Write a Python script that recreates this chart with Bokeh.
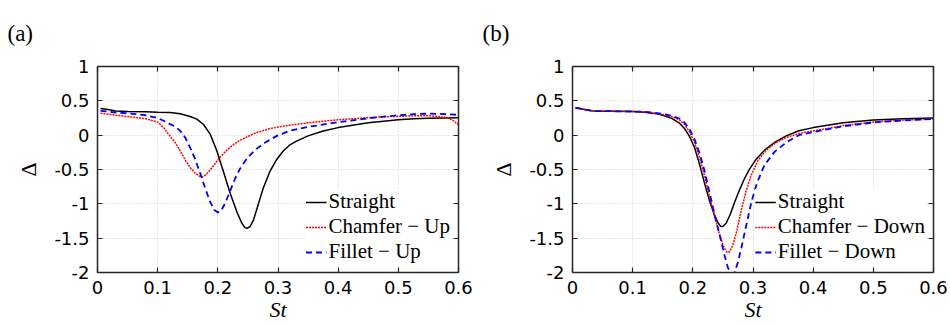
from bokeh.plotting import figure
from bokeh.layouts import row
from bokeh.models import (FixedTicker, NumeralTickFormatter, LinearAxis,
                          Legend, LegendItem)
from bokeh.embed import file_html
from bokeh.resources import INLINE

# ---------------- data ----------------
x_ticks = [0, 0.1, 0.2, 0.3, 0.4, 0.5, 0.6]
y_ticks = [-2, -1.5, -1, -0.5, 0, 0.5, 1]
labels_a = ["Straight", "Chamfer \u2212 Up", "Fillet \u2212 Up"]
labels_b = ["Straight", "Chamfer \u2212 Down", "Fillet \u2212 Down"]

# (a) Straight
st_a_straight = [0.005, 0.02, 0.03, 0.05, 0.08, 0.1, 0.1208, 0.1374, 0.154, 0.1651,
                 0.1762, 0.1873, 0.1983, 0.2094, 0.2205, 0.2316, 0.2399, 0.2454, 0.2493,
                 0.2537, 0.2593, 0.2648, 0.2704, 0.2759, 0.287, 0.2981, 0.3091, 0.3191,
                 0.33, 0.35, 0.375, 0.4, 0.45, 0.471, 0.5, 0.526, 0.55, 0.6]
d_a_straight = [0.39, 0.37, 0.352, 0.345, 0.34, 0.335, 0.33, 0.311, 0.272, 0.233,
                0.155, 0.015, -0.228, -0.534, -0.845, -1.117, -1.282, -1.35, -1.354,
                -1.33, -1.233, -1.078, -0.913, -0.762, -0.519, -0.35, -0.228, -0.146,
                -0.09, -0.01, 0.06, 0.11, 0.18, 0.2, 0.225, 0.24, 0.245, 0.255]
# (a) Chamfer - Up
st_a_chamfer = [0.005, 0.03, 0.055, 0.08, 0.1, 0.11, 0.1208, 0.1291, 0.1374, 0.1457,
                0.154, 0.1623, 0.1695, 0.1745, 0.1806, 0.1873, 0.1956, 0.2039, 0.215,
                0.226, 0.2371, 0.251, 0.2648, 0.287, 0.3191, 0.35, 0.4, 0.45, 0.471,
                0.5, 0.526, 0.554, 0.582, 0.592, 0.6]
d_a_chamfer = [0.32, 0.29, 0.266, 0.24, 0.19, 0.11, -0.019, -0.107, -0.228, -0.359,
               -0.471, -0.553, -0.597, -0.607, -0.573, -0.505, -0.413, -0.32, -0.218,
               -0.136, -0.073, -0.015, 0.039, 0.097, 0.146, 0.18, 0.225, 0.255, 0.265,
               0.275, 0.281, 0.281, 0.256, 0.208, 0.15]
# (a) Fillet - Up
st_a_fillet = [0.005, 0.03, 0.055, 0.08, 0.1, 0.11, 0.1208, 0.1291, 0.1374, 0.1457,
               0.154, 0.1623, 0.1706, 0.1789, 0.1873, 0.1939, 0.2, 0.2055, 0.2122,
               0.2205, 0.2288, 0.2371, 0.2482, 0.2621, 0.2787, 0.2981, 0.3191, 0.35,
               0.4, 0.45, 0.471, 0.5, 0.526, 0.554, 0.6]
d_a_fillet = [0.355, 0.33, 0.315, 0.29, 0.25, 0.21, 0.16, 0.126, 0.063, -0.034,
              -0.18, -0.35, -0.553, -0.772, -0.971, -1.087, -1.126, -1.097, -0.99,
              -0.811, -0.631, -0.485, -0.34, -0.214, -0.107, -0.01, 0.063, 0.12,
              0.19, 0.245, 0.266, 0.29, 0.305, 0.315, 0.296]

# (b) Straight
st_b_straight = [0.005, 0.02, 0.035, 0.06, 0.1, 0.12, 0.14, 0.15, 0.165, 0.1778, 0.1861,
                 0.1945, 0.2028, 0.2111, 0.2194, 0.2277, 0.236, 0.2416, 0.246, 0.2499,
                 0.2554, 0.2621, 0.2693, 0.2776, 0.2859, 0.2942, 0.3053, 0.3191, 0.3357,
                 0.3551, 0.3762, 0.4, 0.45, 0.5, 0.55, 0.6]
d_b_straight = [0.40, 0.375, 0.35, 0.35, 0.345, 0.335, 0.31, 0.29, 0.245, 0.175, 0.097,
                -0.019, -0.18, -0.422, -0.699, -0.956, -1.165, -1.272, -1.325, -1.33,
                -1.282, -1.155, -0.981, -0.796, -0.631, -0.495, -0.35, -0.218, -0.107,
                -0.01, 0.065, 0.11, 0.18, 0.22, 0.24, 0.25]
# (b) Chamfer - Down
st_b_chamfer = [0.005, 0.02, 0.035, 0.06, 0.1, 0.12, 0.14, 0.15, 0.165, 0.1778, 0.1861,
                0.1945, 0.2028, 0.2111, 0.2194, 0.2277, 0.236, 0.2443, 0.251, 0.2571,
                0.2609, 0.2665, 0.2731, 0.2803, 0.2886, 0.2969, 0.308, 0.3219, 0.3385,
                0.3551, 0.3762, 0.4, 0.45, 0.5, 0.55, 0.6]
d_b_chamfer = [0.40, 0.375, 0.35, 0.35, 0.345, 0.338, 0.318, 0.30, 0.27, 0.223, 0.155,
               0.049, -0.107, -0.325, -0.592, -0.883, -1.175, -1.442, -1.621, -1.709,
               -1.699, -1.602, -1.393, -1.102, -0.811, -0.583, -0.374, -0.218, -0.107,
               -0.034, 0.024, 0.06, 0.14, 0.19, 0.22, 0.235]
# (b) Fillet - Down
st_b_fillet = [0.005, 0.02, 0.035, 0.06, 0.1, 0.12, 0.14, 0.15, 0.165, 0.1778, 0.1861,
               0.1945, 0.2028, 0.2111, 0.2194, 0.2277, 0.236, 0.2443, 0.2526, 0.2582,
               0.2637, 0.2693, 0.2748, 0.2814, 0.2886, 0.2969, 0.3064, 0.3191, 0.3357,
               0.3551, 0.3762, 0.4, 0.45, 0.5, 0.55, 0.6]
d_b_fillet = [0.40, 0.375, 0.35, 0.35, 0.345, 0.34, 0.322, 0.31, 0.28, 0.243, 0.184,
              0.087, -0.058, -0.262, -0.519, -0.835, -1.15, -1.442, -1.748, -1.927,
              -2.024, -2.0, -1.854, -1.612, -1.32, -0.99, -0.699, -0.437, -0.243,
              -0.107, 0.0, 0.045, 0.13, 0.185, 0.215, 0.235]

panels = [
    ("(a)", labels_a, [(st_a_straight, d_a_straight), (st_a_chamfer, d_a_chamfer),
                       (st_a_fillet, d_a_fillet)]),
    ("(b)", labels_b, [(st_b_straight, d_b_straight), (st_b_chamfer, d_b_chamfer),
                       (st_b_fillet, d_b_fillet)]),
]

styles = [
    dict(line_color="#000000", line_width=1.5, line_dash="solid"),
    dict(line_color="#ff0000", line_width=1.5, line_dash="2 1"),
    dict(line_color="#0000ff", line_width=1.8, line_dash="6 4"),
]

AX = "#262626"
TICK_FONT = "DejaVu Sans"
SERIF = "Liberation Serif"


def style_axis(ax, show_labels, ticks):
    ax.ticker = FixedTicker(ticks=ticks)
    ax.axis_line_color = AX
    ax.axis_line_width = 1.5
    ax.major_tick_line_color = AX
    ax.major_tick_line_width = 1.2
    ax.major_tick_in = 5
    ax.major_tick_out = 0
    ax.minor_tick_line_color = None
    if show_labels:
        ax.major_label_text_font = TICK_FONT
        ax.major_label_text_font_size = "18px"
        ax.major_label_text_color = "#000000"
        ax.formatter = NumeralTickFormatter(format="0.[0]")
    else:
        ax.major_label_overrides = {t: "" for t in ticks}
        ax.major_label_text_color = None
        ax.major_label_standoff = 0


figs = []
for tag, labels, series in panels:
    p = figure(width=475, height=326, x_range=(0, 0.6), y_range=(-2, 1),
               output_backend="svg", toolbar_location=None,
               min_border_left=97, min_border_right=17, min_border_top=66,
               min_border_bottom=54)
    p.outline_line_color = None
    p.background_fill_color = "white"

    bottom = p.below[0]
    left = p.left[0]
    style_axis(bottom, True, x_ticks)
    style_axis(left, True, y_ticks)
    bottom.major_label_standoff = 8
    left.major_label_standoff = 8

    top = LinearAxis()
    right = LinearAxis()
    style_axis(top, False, x_ticks)
    style_axis(right, False, y_ticks)
    p.add_layout(top, "above")
    p.add_layout(right, "right")

    bottom.axis_label = "St"
    bottom.axis_label_text_font = SERIF
    bottom.axis_label_text_font_style = "italic"
    bottom.axis_label_text_font_size = "22px"
    bottom.axis_label_text_color = "#000000"
    bottom.axis_label_standoff = 0
    left.axis_label = "\u0394"
    left.axis_label_text_font = SERIF
    left.axis_label_text_font_style = "normal"
    left.axis_label_text_font_size = "22px"
    left.axis_label_text_color = "#000000"
    left.axis_label_standoff = 10

    p.xgrid.ticker = FixedTicker(ticks=x_ticks)
    p.ygrid.ticker = FixedTicker(ticks=y_ticks)
    for g in (p.xgrid, p.ygrid):
        g.grid_line_color = "#cfcfcf"
        g.grid_line_dash = "1 2"
        g.grid_line_width = 1

    items = []
    for (xs, ys), lab, st in zip(series, labels, styles):
        r = p.line(xs, ys, **st)
        items.append(LegendItem(label=lab, renderers=[r]))

    leg = Legend(items=items, location="bottom_right")
    leg.border_line_color = None
    leg.background_fill_color = "white"
    leg.background_fill_alpha = 1.0
    leg.margin = 8
    leg.padding = 5
    leg.spacing = 0
    leg.glyph_width = 21
    leg.glyph_height = 20
    leg.label_height = 20
    leg.label_standoff = 2
    leg.label_text_font = SERIF
    leg.label_text_font_size = "21px"
    leg.label_text_color = "#000000"
    p.add_layout(leg, "center")

    p.title.text = tag
    p.title.align = "left"
    p.title.vertical_align = "top"
    p.title.offset = -90
    p.title.text_font = SERIF
    p.title.text_font_size = "23px"
    p.title.text_font_style = "normal"
    p.title.text_color = "#000000"
    try:
        p.title.standoff = 38
    except Exception:
        pass
    figs.append(p)

layout = row(*figs)
open("out.html", "w").write(file_html(layout, INLINE))
